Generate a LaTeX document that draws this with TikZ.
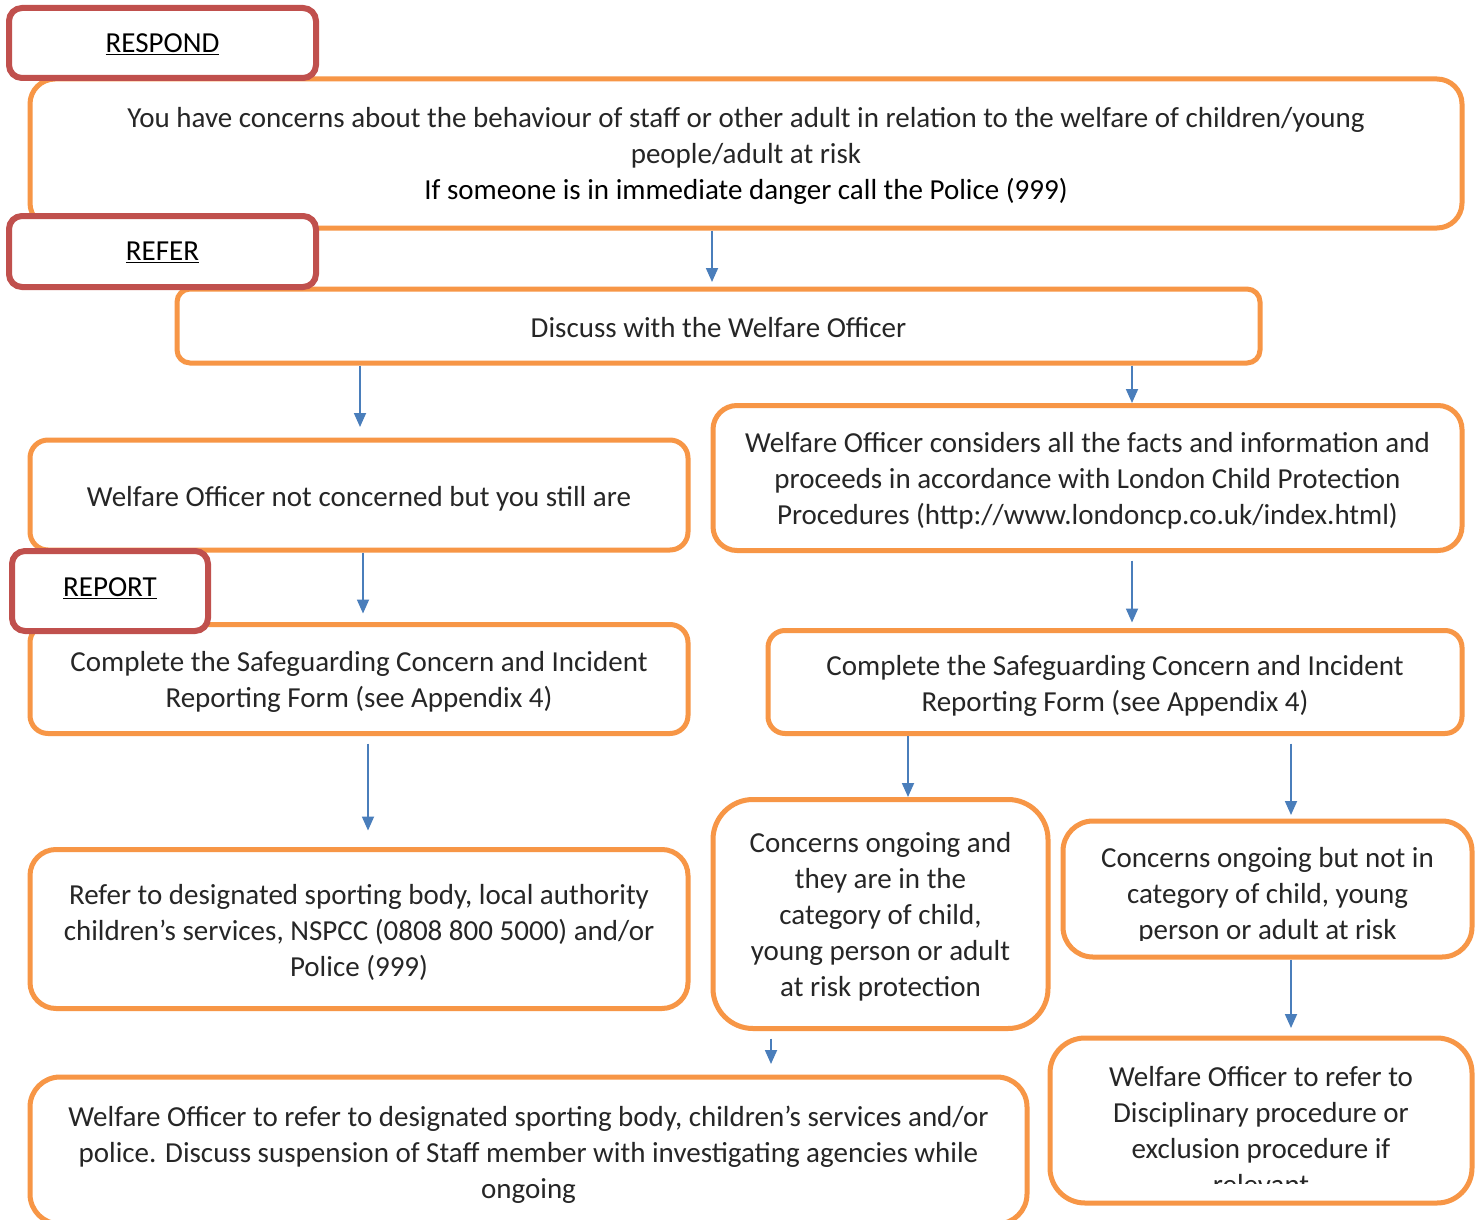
\documentclass[tikz,border=0pt]{standalone}
\usepackage{fontspec}
\setmainfont{Carlito}
\usetikzlibrary{arrows.meta}
\definecolor{orng}{HTML}{F79646}
\definecolor{redb}{HTML}{C0504D}
\definecolor{arrb}{HTML}{4A7EBB}
\definecolor{txtl}{HTML}{262626}
\newcommand\bodyfnt{\fontsize{29}{36}\selectfont}
\begin{document}
\begin{tikzpicture}[x=1pt,y=-1pt,
  obox/.style={draw=orng, line width=5pt, rounded corners=#1, fill=white, inner sep=0pt},
  rbox/.style={draw=redb, line width=6pt, rounded corners=13pt, fill=white, inner sep=0pt},
  btext/.style={inner sep=0pt, align=center, font=\bodyfnt, text=txtl},
  ltext/.style={inner sep=0pt, font=\bodyfnt, text=black},
  arr/.style={draw=arrb, line width=1.8pt, -{Triangle[length=14pt,width=12pt]}}]
\useasboundingbox (0,0) rectangle (1480,1220);
\fill[white] (0,0) rectangle (1480,1220);

% orange boxes
\node[obox=25pt, minimum width=1432pt, minimum height=149pt] (b1) at (746,153.5) {};
\node[btext] (t1) at ([yshift=-2pt]b1.center)
  {You have concerns about the behaviour of staff or other adult in relation to the welfare of children/young\\
   people/adult at risk\\
   \textcolor{black}{If someone is in immediate danger call the Police (999)}};
\node[obox=13pt, minimum width=1083pt, minimum height=74pt] (b2) at (718.5,326) {};
\node[btext] (t2) at ([yshift=-2pt]b2.center) {Discuss with the Welfare Officer};
\node[obox=18pt, minimum width=658pt, minimum height=110pt] (b3) at (359,495) {};
\node[btext] (t3) at ([yshift=-4pt]b3.center) {Welfare Officer not concerned but you still are};
\node[obox=24pt, minimum width=749pt, minimum height=145pt] (b4) at (1087.5,478) {};
\node[btext] (t4) at ([yshift=-3pt]b4.center)
  {Welfare Officer considers all the facts and information and\\
   proceeds in accordance with London Child Protection\\
   Procedures (http://www.londoncp.co.uk/index.html)};
\node[obox=18pt, minimum width=658pt, minimum height=109pt] (b5) at (359,679) {};
\node[btext] (t5) at ([yshift=-3pt]b5.center)
  {Complete the Safeguarding Concern and Incident\\Reporting Form (see Appendix 4)};
\node[obox=17pt, minimum width=694pt, minimum height=103pt] (b6) at (1115,682) {};
\node[btext] (t6) at ([yshift=-4pt]b6.center)
  {Complete the Safeguarding Concern and Incident\\Reporting Form (see Appendix 4)};
\node[obox=26pt, minimum width=658pt, minimum height=159pt] (b7) at (359,929) {};
\node[btext] (t7) at ([yshift=-3pt]b7.center)
  {Refer to designated sporting body, local authority\\
   children’s services, NSPCC (0808 800 5000) and/or\\
   Police (999)};
\node[obox=40pt, minimum width=335pt, minimum height=229pt] (b8) at (880.5,914) {};
\node[btext] (t8) at ([yshift=-3pt]b8.center)
  {Concerns ongoing and\\they are in the\\category of child,\\young person or adult\\at risk protection};
\node[obox=30pt, minimum width=409pt, minimum height=136pt] (b9) at (1267.5,889) {};
\begin{scope}
  \clip (1066,824) rectangle (1469,940);
  \node[btext] (t9) at (1267.5,896)
    {Concerns ongoing but not in\\category of child, young\\person or adult at risk};
\end{scope}
\node[obox=30pt, minimum width=997pt, minimum height=147pt] (b10) at (528.5,1150.5) {};
\node[btext] (t10) at ([yshift=-4pt]b10.center)
  {Welfare Officer to refer to designated sporting body, children’s services and/or\\
   police. Discuss suspension of Staff member with investigating agencies while\\
   ongoing};
\node[obox=35pt, minimum width=422pt, minimum height=165pt] (b11) at (1261,1120.5) {};
\begin{scope}
  \clip (1053,1041) rectangle (1469,1183.5);
  \node[btext] (t11) at (1261,1131)
    {Welfare Officer to refer to\\Disciplinary procedure or\\exclusion procedure if\\relevant};
\end{scope}

% red label boxes
\node[rbox, minimum width=307pt, minimum height=70pt] (respond) at (162.5,43) {};
\node[ltext] (lrespond) at ([yshift=-1pt]respond.center) {\underline{RESPOND}};
\node[rbox, minimum width=307pt, minimum height=71pt] (refer) at (162.5,251.5) {};
\node[ltext] (lrefer) at ([yshift=-1pt]refer.center) {\underline{REFER}};
\node[rbox, minimum width=196pt, minimum height=80pt] (report) at (110,591) {};
\node[ltext] (lreport) at ([yshift=3pt]report.center) {\underline{REPORT}};

% arrow x positions
\coordinate (x1) at (712,0);
\coordinate (x2) at (360,0);
\coordinate (x3) at (1132,0);
\coordinate (x4) at (363,0);
\coordinate (x5) at (368,0);
\coordinate (x6) at (908,0);
\coordinate (x7) at (1291,0);
\coordinate (x8) at (771,0);

\draw[arr, shorten >=4.5pt] (b1.south -| x1) -- (b2.north -| x1);
\draw[arr, shorten >=10.5pt] (b2.south -| x2) -- (b3.north -| x2);
\draw[arr] (b2.south -| x3) -- (b4.north -| x3);
\draw[arr, shorten >=8.5pt] (b3.south -| x4) -- (b5.north -| x4);
\draw[arr, shorten <=7.5pt, shorten >=5.5pt] (b4.south -| x3) -- (b6.north -| x3);
\draw[arr, shorten <=7.5pt, shorten >=16.5pt] (b5.south -| x5) -- (b7.north -| x5);
\draw[arr] (b6.south -| x6) -- (b8.north -| x6);
\draw[arr, shorten <=7.5pt, shorten >=3.5pt] (b6.south -| x7) -- (b9.north -| x7);
\draw[arr, shorten >=7.5pt] (b9.south -| x7) -- (b11.north -| x7);
\draw[arr, shorten <=7.5pt, shorten >=10.5pt] (b8.south -| x8) -- (b10.north -| x8);
\end{tikzpicture}
\end{document}
